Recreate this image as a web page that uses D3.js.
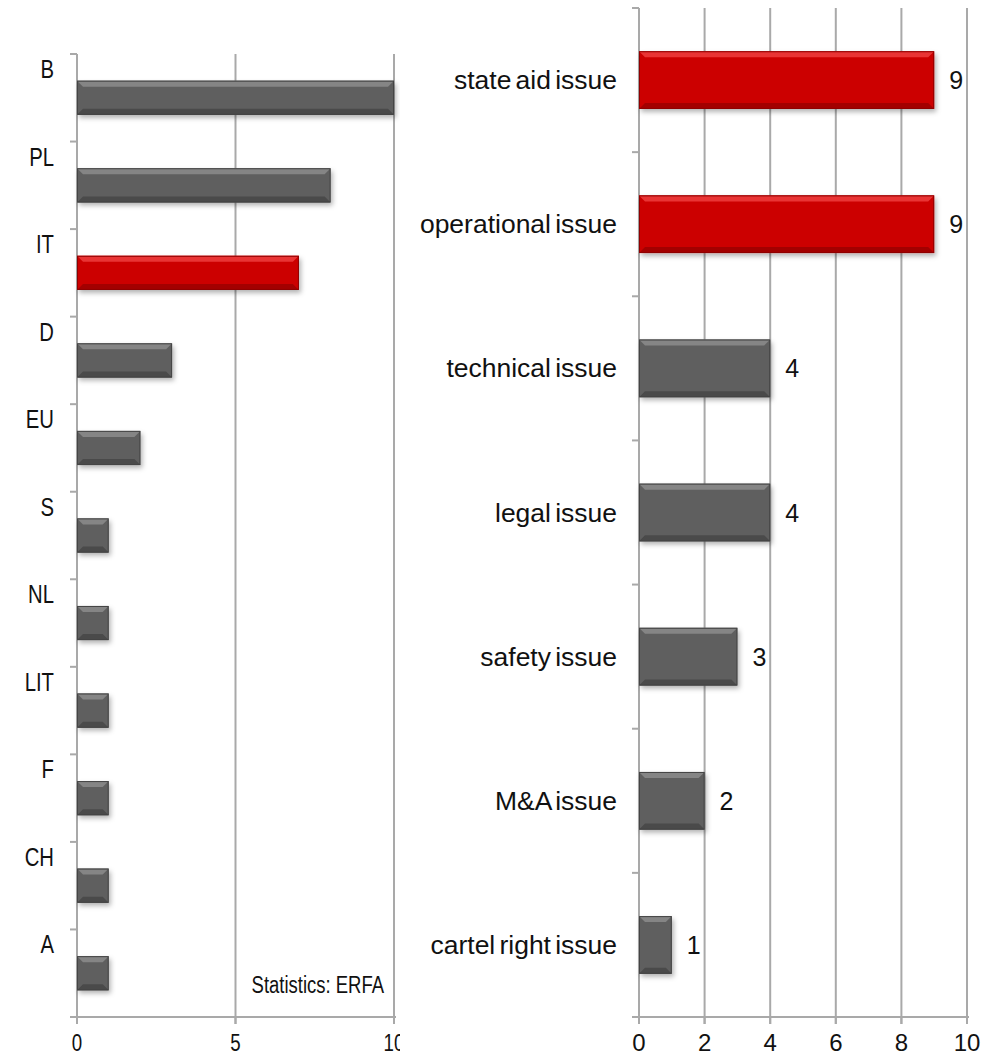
<!DOCTYPE html>
<html>
<head>
<meta charset="utf-8">
<script src="https://cdn.jsdelivr.net/npm/d3@7"></script>
<style>
  body { margin: 0; background: #fff; }
  svg text { font-family: "Liberation Sans", Arial, sans-serif; fill: #111; }
</style>
</head>
<body>
<main></main>
<script>
// left chart: issues by country
const countries = ['B', 'PL', 'IT', 'D', 'EU', 'S', 'NL', 'LIT', 'F', 'CH', 'A'];
const countryValues = [10, 8, 7, 3, 2, 1, 1, 1, 1, 1, 1];
const countryHighlight = ['IT'];
const countryTicks = [0, 5, 10];

// right chart: issues by type
const issues = ['state aid issue', 'operational issue', 'technical issue', 'legal issue',
  'safety issue', 'M&A issue', 'cartel right issue'];
const issueValues = [9, 9, 4, 4, 3, 2, 1];
const issueHighlight = ['state aid issue', 'operational issue'];
const issueTicks = [0, 2, 4, 6, 8, 10];

const W = 992, H = 1057;
const GRID = '#a9a9a9';
const COLORS = {
  gray: { base: '#5e5e5e', light: '#858585', dark: '#4a4a4a', edge: '#444' },
  red: { base: '#cc0000', light: '#e93434', dark: '#a30000', edge: '#8e0000' }
};

const $svg = d3.select('main').append('svg').attr('width', W).attr('height', H);

const defs = $svg.append('defs');
const shadow = defs.append('filter').attr('id', 'shadow')
  .attr('x', '-10%').attr('y', '-20%').attr('width', '130%').attr('height', '160%');
shadow.append('feDropShadow').attr('dx', 2).attr('dy', 3).attr('stdDeviation', 2.5)
  .attr('flood-color', '#000').attr('flood-opacity', 0.3);

// text squeezed/stretched horizontally, the source picture is not square-scaled
function label(g, x, y, txt, size, sx, anchor) {
  return g.append('text')
    .attr('transform', `translate(${x},${y}) scale(${sx},1)`)
    .attr('text-anchor', anchor).attr('font-size', size)
    .text(txt);
}

// bevelled bar like the office "3D" preset
function drawBar(g, x0, y0, w, h, c) {
  const b = Math.min(6, w / 4, h / 4);
  const bar = g.append('g');
  bar.append('rect').attr('x', x0).attr('y', y0).attr('width', w).attr('height', h)
    .attr('fill', c.base).attr('filter', 'url(#shadow)');
  const pts = a => a.map(p => p.join(',')).join(' ');
  bar.append('polygon').attr('fill', c.light)
    .attr('points', pts([[x0, y0], [x0 + w, y0], [x0 + w - b, y0 + b], [x0 + b, y0 + b]]));
  bar.append('polygon').attr('fill', c.dark)
    .attr('points', pts([[x0, y0 + h], [x0 + w, y0 + h], [x0 + w - b, y0 + h - b], [x0 + b, y0 + h - b]]));
  bar.append('rect').attr('x', x0 + 0.5).attr('y', y0 + 0.5).attr('width', w - 1).attr('height', h - 1)
    .attr('fill', 'none').attr('stroke', c.edge).attr('stroke-width', 1);
}

function drawChart(opts) {
  const { $g, cats, vals, highlight, ticks, x0, x1, top, bottom, barRatio, tickSx } = opts;
  const x = d3.scaleLinear().domain([0, 10]).range([x0, x1]);
  const y = d3.scaleBand().domain(cats).range([top, bottom]).padding(0);
  const bh = y.bandwidth() * barRatio;

  // vertical gridlines
  $g.append('g').selectAll('line').data(ticks.filter(t => t > 0)).join('line')
    .attr('x1', d => x(d)).attr('x2', d => x(d))
    .attr('y1', top).attr('y2', bottom + 7)
    .attr('stroke', GRID).attr('stroke-width', 2);

  // y axis line + ticks at band edges
  $g.append('line').attr('x1', x0).attr('x2', x0).attr('y1', top).attr('y2', bottom + 7)
    .attr('stroke', GRID).attr('stroke-width', 2);
  $g.append('g').selectAll('line').data(cats.map(c => y(c))).join('line')
    .attr('x1', x0 - 7).attr('x2', x0).attr('y1', d => d).attr('y2', d => d)
    .attr('stroke', GRID).attr('stroke-width', 2);

  // x axis
  $g.append('line').attr('x1', x0 - 7).attr('x2', x1 + 2).attr('y1', bottom).attr('y2', bottom)
    .attr('stroke', GRID).attr('stroke-width', 2);
  $g.append('g').selectAll('line').data(ticks).join('line')
    .attr('x1', d => x(d)).attr('x2', d => x(d)).attr('y1', bottom).attr('y2', bottom + 7)
    .attr('stroke', GRID).attr('stroke-width', 2);
  const $ticks = $g.append('g');
  ticks.forEach(t => label($ticks, x(t), 1051, t, 24, tickSx, 'middle'));

  const $bars = $g.append('g');
  cats.forEach((c, i) => {
    const col = highlight.includes(c) ? COLORS.red : COLORS.gray;
    drawBar($bars, x(0), y(c) + (y.bandwidth() - bh) / 2, x(vals[i]) - x(0), bh, col);
  });
  return { x, y, bh };
}

// left chart, clipped on the right like the source
const $left = $svg.append('svg').attr('x', 0).attr('y', 0).attr('width', 400).attr('height', H);
const L = drawChart({
  $g: $left, cats: countries, vals: countryValues, highlight: countryHighlight,
  ticks: countryTicks, x0: 77, x1: 394, top: 54, bottom: 1017, barRatio: 0.39, tickSx: 0.78
});
const $lLabels = $left.append('g');
countries.forEach(c => label($lLabels, 54, L.y(c) + 24, c, 26, 0.78, 'end'));
label($left, 384, 993, 'Statistics: ERFA', 24, 0.77, 'end');

// right chart
const $right = $svg.append('g');
const R = drawChart({
  $g: $right, cats: issues, vals: issueValues, highlight: issueHighlight,
  ticks: issueTicks, x0: 639, x1: 967, top: 8, bottom: 1017, barRatio: 0.4, tickSx: 1
});
const $rLabels = $right.append('g');
issues.forEach((c, i) => {
  const cy = R.y(c) + R.y.bandwidth() / 2 + 9;
  label($rLabels, 617, cy, c, 25, 1.06, 'end').attr('word-spacing', -3);
  label($rLabels, R.x(issueValues[i]) + 15, cy, issueValues[i], 25, 1, 'start');
});
</script>
</body>
</html>
